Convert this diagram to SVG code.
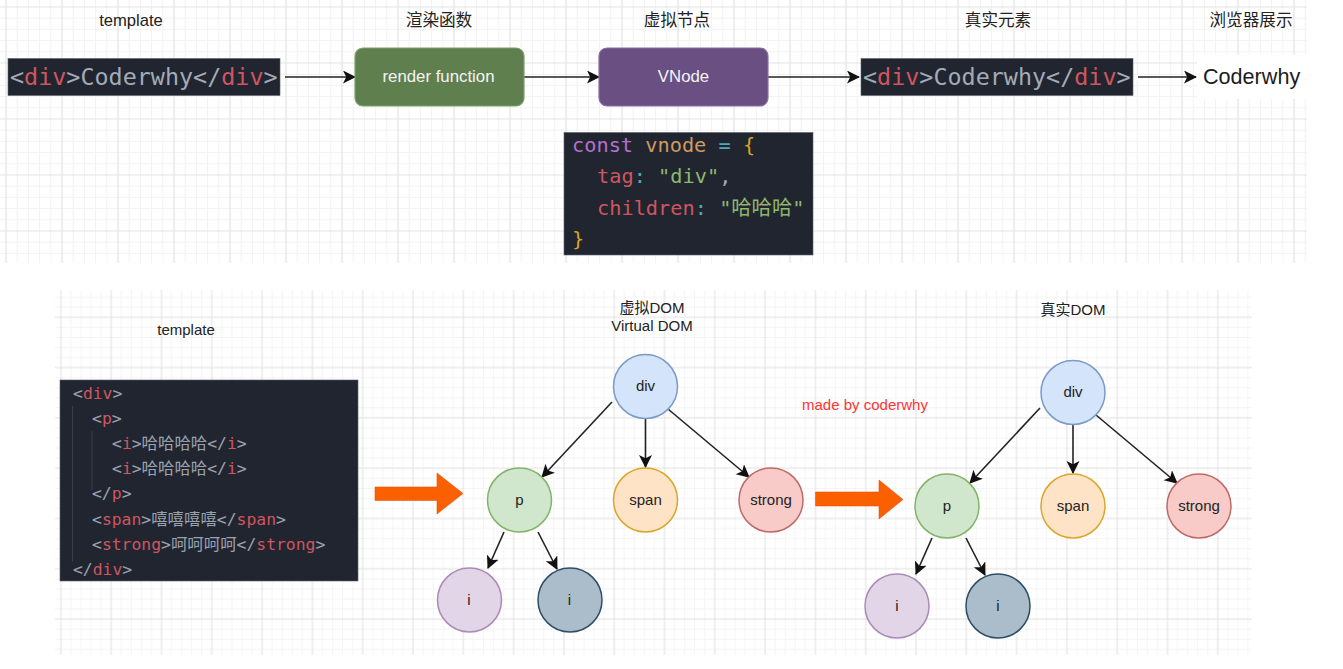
<svg xmlns="http://www.w3.org/2000/svg" width="1343" height="669" viewBox="0 0 1343 669">
<style>
text{font-family:"Liberation Sans","Noto Sans CJK SC",sans-serif;fill:#222}
.m{text-anchor:middle}
.lab{font-size:16.6px}
.b{font-size:15px}
.bl{font-size:15px}
.w{fill:#f4f4f4;font-size:16.8px;text-anchor:middle}
.code,.code tspan{font-family:"DejaVu Sans Mono","Noto Sans CJK SC",monospace}
.c1{font-size:23.4px;fill:#a3abb8}
.c2{font-size:20.3px;fill:#a3abb8}
.c3{font-size:16.4px;fill:#9aa2af}
.r{fill:#cf5660}
.dark{fill:#21252f;stroke:#5a5f68;stroke-width:.6}
.n{stroke-width:1.5}
.cn line{stroke:#222;stroke-width:1.6;fill:none;marker-end:url(#a)}
.big{fill:#fa5f00;stroke:#e8590c;stroke-width:.6}
</style>
<defs>
<marker id="a" markerUnits="userSpaceOnUse" markerWidth="15" markerHeight="15" refX="12" refY="6.500" orient="auto"><path d="M0 0L13 6.500L0 13L3.200 6.500Z" fill="#111"/></marker>
<pattern id="g1" patternUnits="userSpaceOnUse" x="5" y="6" width="56" height="56">
<path d="M12.200 0V56M23.400 0V56M34.600 0V56M45.800 0V56M0 12.200H56M0 23.400H56M0 34.600H56M0 45.800H56" stroke="#f2f2f2" stroke-width="1" fill="none"/>
<path d="M1 0V56M0 1H56" stroke="#e3e3e3" stroke-width="1.200" fill="none"/>
</pattern>
<pattern id="g2" patternUnits="userSpaceOnUse" x="462.300" y="316.300" width="50.300" height="50.300">
<path d="M11 0V50.300M21.100 0V50.300M31.200 0V50.300M41.200 0V50.300M0 11H50.300M0 21.100H50.300M0 31.200H50.300M0 41.200H50.300" stroke="#f4f4f4" stroke-width="1" fill="none"/>
<path d="M1 0V50.300M0 1H50.300" stroke="#e0e0e0" stroke-width="1" fill="none"/>
</pattern>
</defs>
<rect width="1343" height="669" fill="#fff"/>
<rect id="grid-top" x="0" y="0" width="1307" height="263" fill="url(#g1)"/>
<rect id="grid-bottom" x="55" y="290" width="1197" height="365" fill="url(#g2)"/>

<g id="connectors" class="cn">
<line x1="285" y1="77" x2="355" y2="77"/>
<line x1="524" y1="77" x2="599" y2="77"/>
<line x1="768" y1="77" x2="859" y2="77"/>
<line x1="1138" y1="77" x2="1196" y2="77"/>
<line x1="612" y1="402" x2="542" y2="477"/>
<line x1="645.500" y1="419" x2="645.500" y2="467"/>
<line x1="668" y1="409" x2="749" y2="477"/>
<line x1="504" y1="532" x2="488" y2="568"/>
<line x1="538" y1="532" x2="557" y2="569"/>
<line x1="1040" y1="408" x2="970" y2="483"/>
<line x1="1073" y1="425" x2="1073" y2="473"/>
<line x1="1096" y1="415" x2="1177" y2="483"/>
<line x1="932" y1="538" x2="916" y2="574"/>
<line x1="966" y1="538" x2="985" y2="575"/>
</g>

<g id="label-template"><text class="lab m" x="131" y="26">template</text></g>
<g id="label-render"><text class="lab m" x="439" y="26">渲染函数</text></g>
<g id="label-vnode"><text class="lab m" x="677" y="26">虚拟节点</text></g>
<g id="label-real"><text class="lab m" x="998" y="26">真实元素</text></g>
<g id="label-browser"><text class="lab m" x="1251" y="26">浏览器展示</text></g>

<g id="template-code"><rect class="dark" x="8" y="58.500" width="272" height="37"/>
<text class="code c1" x="10" y="85">&lt;<tspan class="r">div</tspan>&gt;Coderwhy&lt;/<tspan class="r">div</tspan>&gt;</text></g>
<g id="render-function"><rect x="355" y="48" width="169" height="58" rx="8" fill="#5f7f4f" stroke="#7f9f6c" stroke-width="1.200"/>
<text class="w" x="438.500" y="82">render function</text></g>
<g id="vnode"><rect x="599" y="48" width="169" height="58" rx="8" fill="#6a4f82" stroke="#8a6fa3" stroke-width="1.200"/>
<text class="w" x="683.500" y="82">VNode</text></g>
<g id="real-code"><rect class="dark" x="861" y="58.500" width="272" height="37"/>
<text class="code c1" x="863" y="85">&lt;<tspan class="r">div</tspan>&gt;Coderwhy&lt;/<tspan class="r">div</tspan>&gt;</text></g>
<g id="browser-output"><rect x="1197" y="55" width="110" height="44" fill="#fff"/>
<text x="1203" y="84" font-size="21.600" style="fill:#1c1c1c">Coderwhy</text></g>

<g id="vnode-code"><rect class="dark" x="564" y="132.500" width="249" height="122.500"/>
<text class="code c2" x="572" y="152" xml:space="preserve"><tspan style="fill:#b570cf">const</tspan> <tspan style="fill:#cf9a62">vnode</tspan> <tspan style="fill:#4fa8b4">=</tspan> <tspan style="fill:#d9a520">{</tspan></text>
<text class="code c2" x="597" y="183"><tspan class="r">tag</tspan><tspan style="fill:#4fa8b4">:</tspan> <tspan style="fill:#8fb86f">"div"</tspan>,</text>
<text class="code c2" x="597" y="215"><tspan class="r">children</tspan><tspan style="fill:#4fa8b4">:</tspan> <tspan style="fill:#8fb86f">"哈哈哈"</tspan></text>
<text class="code c2" x="572" y="246" style="fill:#d9a520">}</text></g>

<g id="label-template2"><text class="bl m" x="186" y="335">template</text></g>
<g id="label-vdom"><text class="bl m" x="652" y="313">虚拟DOM</text><text class="bl m" x="652" y="331">Virtual DOM</text></g>
<g id="label-rdom"><text class="bl m" x="1073" y="315">真实DOM</text></g>
<g id="made-by"><text class="bl" x="802" y="410" style="fill:#f33">made by coderwhy</text></g>

<g id="template-tree-code"><rect class="dark" x="60" y="380" width="298" height="201"/>
<path d="M72.500 406V562M92 431V490" stroke="#3a3f49" stroke-width="1" fill="none"/>
<text class="code c3" x="73" y="399">&lt;<tspan class="r">div</tspan>&gt;</text>
<text class="code c3" x="92" y="424">&lt;<tspan class="r">p</tspan>&gt;</text>
<text class="code c3" x="112" y="449">&lt;<tspan class="r">i</tspan>&gt;哈哈哈哈&lt;/<tspan class="r">i</tspan>&gt;</text>
<text class="code c3" x="112" y="474">&lt;<tspan class="r">i</tspan>&gt;哈哈哈哈&lt;/<tspan class="r">i</tspan>&gt;</text>
<text class="code c3" x="92" y="499">&lt;/<tspan class="r">p</tspan>&gt;</text>
<text class="code c3" x="92" y="525">&lt;<tspan class="r">span</tspan>&gt;嘻嘻嘻嘻&lt;/<tspan class="r">span</tspan>&gt;</text>
<text class="code c3" x="92" y="550">&lt;<tspan class="r">strong</tspan>&gt;呵呵呵呵&lt;/<tspan class="r">strong</tspan>&gt;</text>
<text class="code c3" x="73" y="575">&lt;/<tspan class="r">div</tspan>&gt;</text></g>

<g id="big-arrow-1"><path class="big" d="M375 487H437V473L463 493.500L437 514V500.500H375Z"/></g>
<g id="big-arrow-2"><path class="big" d="M815.500 492H879V480L903 499.500L879 519V506H815.500Z"/></g>

<g id="v-div"><circle class="n" cx="645.500" cy="386.500" r="32" fill="#d4e4fb" stroke="#7a9ac8"/><text class="b m" x="645.500" y="391">div</text></g>
<g id="v-p"><circle class="n" cx="519.500" cy="500" r="32" fill="#d0e6cd" stroke="#82b366"/><text class="b m" x="519.500" y="505">p</text></g>
<g id="v-span"><circle class="n" cx="645.500" cy="500" r="32" fill="#ffe3c6" stroke="#dba52a"/><text class="b m" x="645.500" y="505">span</text></g>
<g id="v-strong"><circle class="n" cx="771" cy="500" r="32" fill="#f8cbc8" stroke="#bd6a66"/><text class="b m" x="771" y="505">strong</text></g>
<g id="v-i1"><circle class="n" cx="469.500" cy="600" r="32" fill="#e1d5e7" stroke="#a98bb9"/><text class="b m" x="469" y="605">i</text></g>
<g id="v-i2"><circle class="n" cx="570" cy="600" r="32" fill="#abbdcb" stroke="#2d4d66"/><text class="b m" x="569.500" y="605">i</text></g>

<g id="r-div"><circle class="n" cx="1073" cy="392.500" r="32" fill="#d4e4fb" stroke="#7a9ac8"/><text class="b m" x="1073" y="397">div</text></g>
<g id="r-p"><circle class="n" cx="947" cy="506" r="32" fill="#d0e6cd" stroke="#82b366"/><text class="b m" x="947" y="511">p</text></g>
<g id="r-span"><circle class="n" cx="1073" cy="506" r="32" fill="#ffe3c6" stroke="#dba52a"/><text class="b m" x="1073" y="511">span</text></g>
<g id="r-strong"><circle class="n" cx="1199" cy="506" r="32" fill="#f8cbc8" stroke="#bd6a66"/><text class="b m" x="1199" y="511">strong</text></g>
<g id="r-i1"><circle class="n" cx="897" cy="606" r="32" fill="#e1d5e7" stroke="#a98bb9"/><text class="b m" x="897" y="611">i</text></g>
<g id="r-i2"><circle class="n" cx="998" cy="606" r="32" fill="#abbdcb" stroke="#2d4d66"/><text class="b m" x="998" y="611">i</text></g>
</svg>
